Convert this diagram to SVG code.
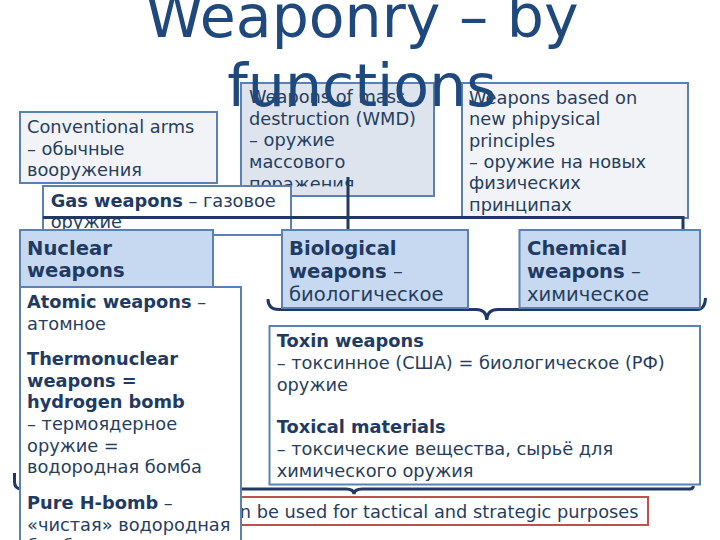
<svg xmlns="http://www.w3.org/2000/svg" width="720" height="540" viewBox="0 0 720 540">
<style>
.t{font-family:"DejaVu Sans","Liberation Sans",sans-serif;font-size:17.8px;fill:#263E5E}
.h{font-size:19.6px}
.b{font-weight:bold;fill:#1F3A63}
.box{stroke:#5B80B2;stroke-width:2}
.light{fill:#F2F3F6}
.wmd{fill:#DDE4EE}
.blue{fill:#C6D9F1}
.white{fill:#FFFFFF}
.conn{stroke:#1F3864;stroke-width:3;fill:none}
.title{font-family:"DejaVu Sans","Liberation Sans",sans-serif;font-size:58.5px;fill:#1F497D;text-anchor:middle}
</style>
<defs>
<clipPath id="wmdclip"><rect x="241" y="83" width="194" height="103.5"/></clipPath>
</defs>
<rect width="720" height="540" fill="#FFFFFF"/>

<g id="purposes">
<rect x="150" y="497" width="498" height="28" fill="#FFFFFF" stroke="#C0504D" stroke-width="2"/>
<text class="t" x="638.5" y="517.7" text-anchor="end">n be used for tactical and strategic purposes</text>
</g>

<g id="conventional">
<rect class="box light" x="20" y="112" width="197" height="71"/>
<text class="t"><tspan x="27" y="133">Conventional arms</tspan><tspan x="27" y="154.6">– обычные</tspan><tspan x="27" y="176.2">вооружения</tspan></text>
</g>

<g id="wmd">
<rect class="box wmd" x="241" y="83" width="193" height="113"/>
<text class="t" clip-path="url(#wmdclip)"><tspan x="249" y="103">Weapons of mass</tspan><tspan x="249" y="124.7">destruction (WMD)</tspan><tspan x="249" y="146.4">– оружие</tspan><tspan x="249" y="168.1">массового</tspan><tspan x="249" y="189.8">поражения</tspan></text>
</g>

<g id="principles">
<rect class="box light" x="462" y="83" width="226" height="135"/>
<text class="t"><tspan x="469" y="103.7">Weapons based on</tspan><tspan x="469" y="125.1">new phipysical</tspan><tspan x="469" y="146.5">principles</tspan><tspan x="469" y="167.9">– оружие на новых</tspan><tspan x="469" y="189.3">физических</tspan><tspan x="469" y="210.7">принципах</tspan></text>
</g>

<g id="gas">
<rect class="box white" x="43" y="186" width="248" height="49"/>
<text class="t"><tspan x="50.7" y="206.7"><tspan class="b">Gas weapons</tspan> – газовое</tspan><tspan x="50.7" y="228.3">оружие</tspan></text>
</g>

<g id="connectors">
<path class="conn" d="M43,217.5 H683 V230"/>
<path class="conn" d="M348,177 V230"/>
<path class="conn" d="M268,299 Q268,309.5 279,309.5 H476 Q486.5,309.5 486.8,320 Q487.1,309.5 498,309.5 H697 Q705,309.5 705.5,298"/>
<path class="conn" d="M14.5,473 V482 Q14.5,489 22,489 H346 Q353.5,489 354,494 Q354.5,489 362,489 H690 Q693,489 693.5,486"/>
</g>

<g id="nuclear">
<rect class="box blue" x="20" y="230" width="193" height="60"/>
<text class="t h b"><tspan x="27" y="255">Nuclear</tspan><tspan x="27" y="277.3">weapons</tspan></text>
</g>

<g id="biological">
<rect class="box blue" x="282" y="230" width="186" height="78"/>
<text class="t h"><tspan x="289" y="255" class="b">Biological</tspan><tspan x="289" y="277.5"><tspan class="b">weapons</tspan> –</tspan><tspan x="289" y="301">биологическое</tspan></text>
</g>

<g id="chemical">
<rect class="box blue" x="519.5" y="230" width="180.5" height="78"/>
<text class="t h"><tspan x="527" y="255" class="b">Chemical</tspan><tspan x="527" y="277.5"><tspan class="b">weapons</tspan> –</tspan><tspan x="527" y="301">химическое</tspan></text>
</g>

<g id="atomic">
<rect class="box white" x="20" y="287" width="221" height="270"/>
<text class="t"><tspan x="27" y="308"><tspan class="b">Atomic weapons</tspan> –</tspan><tspan x="27" y="330">атомное</tspan><tspan x="27" y="365" class="b">Thermonuclear</tspan><tspan x="27" y="386.7" class="b">weapons =</tspan><tspan x="27" y="408.3" class="b">hydrogen bomb</tspan><tspan x="27" y="430">– термоядерное</tspan><tspan x="27" y="451.6">оружие =</tspan><tspan x="27" y="473.2">водородная бомба</tspan><tspan x="27" y="509"><tspan class="b">Pure H-bomb</tspan> –</tspan><tspan x="27" y="530.7">«чистая» водородная</tspan><tspan x="27" y="552.3">бомба</tspan></text>
</g>

<g id="toxin">
<rect class="box white" x="269.5" y="326" width="430.5" height="158.5"/>
<text class="t"><tspan x="276.7" y="347.3" class="b">Toxin weapons</tspan><tspan x="276.7" y="369">– токсинное (США) = биологическое (РФ)</tspan><tspan x="276.7" y="390.6">оружие</tspan><tspan x="276.7" y="433.3" class="b">Toxical materials</tspan><tspan x="276.7" y="455">– токсические вещества, сырьё для</tspan><tspan x="276.7" y="476.7">химического оружия</tspan></text>
</g>

<g id="title">
<text class="title"><tspan x="362" y="37">Weaponry – by</tspan><tspan x="362" y="106">functions</tspan></text>
</g>
</svg>
